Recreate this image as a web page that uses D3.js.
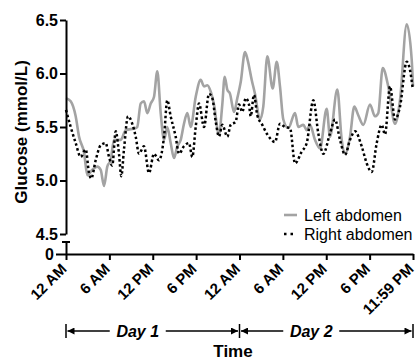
<!DOCTYPE html>
<html>
<head>
<meta charset="utf-8">
<script src="https://cdn.jsdelivr.net/npm/d3@7"></script>
<style>
  body { margin: 0; background: #fff; }
  svg { font-family: Arial, "Liberation Sans", sans-serif; }
  .axis path, .axis line { stroke: #000; stroke-width: 2; }
  .axis text { font-size: 16px; font-weight: bold; fill: #000; }
  .xaxis text { font-size: 15px; }
</style>
</head>
<body>
<svg id="chart" width="416" height="360"></svg>
<script>
// hours since midnight of day 1, glucose in mmol/L
const leftHours = [0, 0.65, 1.34, 1.8, 2.5, 2.95, 3.64, 4.33, 4.8, 5.26, 5.71, 6.18, 6.64, 7.57, 8.26, 9.64, 9.86, 10.33, 10.79, 11.25, 11.72, 12.17, 12.63, 13.1, 13.56, 14.01, 14.48, 14.94, 15.4, 15.87, 16.32, 16.78, 17.25, 17.94, 18.63, 19.09, 19.55, 20.02, 20.47, 21.16, 21.62, 21.95, 22.31, 22.69, 23.24, 23.7, 24.17, 24.76, 25.08, 25.69, 26.14, 26.84, 27.29, 27.85, 28.59, 29.15, 29.6, 30.06, 30.75, 31.68, 32.13, 32.83, 33.3, 33.75, 34.44, 35.14, 36.06, 36.52, 37.53, 38.14, 38.6, 39.29, 39.88, 40.43, 41.13, 42.05, 42.74, 43.2, 43.81, 44.58, 45.51, 46.2, 47.13, 47.82, 48]
const leftGlucose = [5.77, 5.74, 5.60, 5.41, 5.26, 5.05, 5.10, 5.13, 5.10, 4.95, 5.13, 5.19, 5.38, 5.38, 5.47, 5.49, 5.50, 5.72, 5.74, 5.63, 5.72, 5.78, 6.02, 5.63, 5.38, 5.50, 5.35, 5.21, 5.32, 5.38, 5.53, 5.63, 5.50, 5.78, 5.94, 5.88, 5.89, 5.83, 5.71, 5.43, 5.71, 5.97, 5.85, 5.81, 5.64, 5.77, 5.92, 6.20, 6.14, 5.94, 5.81, 5.57, 5.69, 6.16, 5.86, 6.11, 5.88, 5.57, 5.49, 5.63, 5.50, 5.52, 5.47, 5.52, 5.38, 5.30, 5.67, 5.41, 5.85, 5.38, 5.25, 5.41, 5.69, 5.61, 5.52, 5.71, 5.60, 5.63, 6.05, 5.88, 5.53, 5.75, 6.46, 6.13, 5.88]

const rightHours = [0, 0.65, 1.34, 2.03, 2.73, 3.18, 3.5, 4.11, 4.8, 5.49, 5.95, 6.4, 6.88, 7.33, 7.65, 8.02, 8.58, 9.17, 9.64, 10.1, 10.79, 11.48, 12.17, 12.86, 13.56, 14.01, 14.48, 15.17, 15.63, 16.32, 17.01, 17.47, 17.94, 18.4, 19.09, 19.78, 20.24, 20.71, 21.16, 21.62, 22.31, 22.78, 23.47, 23.93, 24.39, 24.86, 25.31, 25.55, 26.0, 26.46, 27.15, 27.85, 28.91, 29.6, 30.29, 30.99, 31.68, 32.6, 33.3, 34.21, 34.9, 35.59, 36.52, 37.21, 37.9, 38.6, 39.29, 39.98, 40.9, 41.6, 42.29, 42.98, 43.67, 44.13, 44.82, 45.51, 46.2, 47.13, 47.59, 47.96]
const rightGlucose = [5.66, 5.50, 5.35, 5.22, 5.29, 5.07, 5.02, 5.19, 5.33, 5.35, 5.22, 5.14, 5.46, 5.25, 5.04, 5.29, 5.60, 5.53, 5.41, 5.25, 5.32, 5.07, 5.25, 5.19, 5.41, 5.75, 5.60, 5.41, 5.25, 5.32, 5.35, 5.22, 5.50, 5.72, 5.50, 5.81, 5.77, 5.55, 5.41, 5.52, 5.41, 5.52, 5.55, 5.71, 5.64, 5.77, 5.71, 5.60, 5.80, 5.61, 5.52, 5.43, 5.36, 5.53, 5.50, 5.49, 5.16, 5.27, 5.35, 5.75, 5.44, 5.25, 5.44, 5.57, 5.38, 5.24, 5.38, 5.46, 5.32, 5.16, 5.08, 5.35, 5.52, 5.43, 5.88, 5.57, 5.69, 6.11, 6.03, 5.86]

const yTicks = [4.5, 5.0, 5.5, 6.0, 6.5]
const xTickHours = [0, 6, 12, 18, 24, 30, 36, 42, 48]
const xTickLabels = ['12 AM', '6 AM', '12 PM', '6 PM', '12 AM', '6 AM', '12 PM', '6 PM', '11:59 PM']
const dayLabels = ['Day 1', 'Day 2']
const seriesNames = ['Left abdomen', 'Right abdomen']

const svg = d3.select('#chart')

const x = d3.scaleLinear().domain([0, 48]).range([66, 413])
const y = d3.scaleLinear().domain([4.5, 6.5]).range([234, 20])
// the broken-off bottom part of the y axis, only holding 0
const yLow = d3.scaleLinear().domain([0, 1]).range([254, 242])

// arrow heads for the day brackets
const defs = svg.append('defs')
defs.append('marker')
  .attr('id', 'arrow')
  .attr('viewBox', '0 0 10 10')
  .attr('refX', 10).attr('refY', 5)
  .attr('markerWidth', 9).attr('markerHeight', 7)
  .attr('markerUnits', 'userSpaceOnUse')
  .attr('orient', 'auto-start-reverse')
  .append('path').attr('d', 'M0,0L10,5L0,10Z').attr('fill', '#000')

// lines
const line = d3.line()
  .x(d => x(d[0]))
  .y(d => y(d[1]))
  .curve(d3.curveMonotoneX)

const leftData = leftHours.map((h, i) => [h, leftGlucose[i]])
const rightData = rightHours.map((h, i) => [h, rightGlucose[i]])

svg.append('path')
  .datum(leftData)
  .attr('d', line)
  .attr('fill', 'none')
  .attr('stroke', '#a3a3a3')
  .attr('stroke-width', 2.6)

svg.append('path')
  .datum(rightData)
  .attr('d', line)
  .attr('fill', 'none')
  .attr('stroke', '#000')
  .attr('stroke-width', 2.5)
  .attr('stroke-dasharray', '2.5,2.5')

// y axis, upper part
svg.append('g')
  .attr('class', 'axis')
  .attr('transform', 'translate(66,0)')
  .call(d3.axisLeft(y).tickValues(yTicks).tickFormat(d3.format('.1f')).tickSize(6).tickSizeOuter(0).tickPadding(2))

// y axis, lower part with 0
const gLow = svg.append('g')
  .attr('class', 'axis')
  .attr('transform', 'translate(66,0)')
  .call(d3.axisLeft(yLow).tickValues([0]).tickFormat(d3.format('d')).tickSize(10).tickSizeOuter(0).tickPadding(2))
gLow.append('line')
  .attr('x1', -4).attr('x2', 4)
  .attr('y1', yLow(1)).attr('y2', yLow(1))
  .attr('stroke', '#000').attr('stroke-width', 2)

// x axis
const gx = svg.append('g')
  .attr('class', 'axis xaxis')
  .attr('transform', 'translate(0,254)')
  .call(d3.axisBottom(x).tickValues(xTickHours).tickFormat((d, i) => xTickLabels[i]).tickSize(6).tickSizeOuter(0))
gx.selectAll('.tick text')
  .attr('text-anchor', 'end')
  .attr('dy', 0)
  .attr('y', 0)
  .attr('transform', 'translate(1,16) rotate(-45)')

// day brackets
const bracketY = 331
const dayEdges = [0, 24, 48]
dayEdges.forEach(h => {
  svg.append('line')
    .attr('x1', x(h)).attr('x2', x(h))
    .attr('y1', bracketY - 7).attr('y2', bracketY + 7)
    .attr('stroke', '#000').attr('stroke-width', 1.5)
})
dayLabels.forEach((lab, i) => {
  const x0 = x(dayEdges[i]) + 1.5
  const x1 = x(dayEdges[i + 1]) - 1.5
  const cx = (x0 + x1) / 2 - 15
  svg.append('text')
    .attr('x', cx).attr('y', bracketY)
    .attr('dy', '0.35em')
    .attr('text-anchor', 'middle')
    .attr('font-size', 16)
    .attr('font-weight', 'bold')
    .attr('font-style', 'italic')
    .text(lab)
  svg.append('line')
    .attr('x1', cx - 28).attr('x2', x0)
    .attr('y1', bracketY).attr('y2', bracketY)
    .attr('stroke', '#000').attr('stroke-width', 1.5)
    .attr('marker-end', 'url(#arrow)')
  svg.append('line')
    .attr('x1', cx + 28).attr('x2', x1)
    .attr('y1', bracketY).attr('y2', bracketY)
    .attr('stroke', '#000').attr('stroke-width', 1.5)
    .attr('marker-end', 'url(#arrow)')
})

// axis titles
svg.append('text')
  .attr('x', 233).attr('y', 357)
  .attr('text-anchor', 'middle')
  .attr('font-size', 17)
  .attr('font-weight', 'bold')
  .text('Time')

svg.append('text')
  .attr('transform', 'translate(27,132) rotate(-90)')
  .attr('text-anchor', 'middle')
  .attr('font-size', 17)
  .attr('font-weight', 'bold')
  .text('Glucose (mmol/L)')

// legend
const legend = svg.append('g').attr('transform', 'translate(284,215)')
seriesNames.forEach((name, i) => {
  const row = legend.append('g').attr('transform', `translate(0,${i * 19})`)
  row.append('line')
    .attr('x1', 0).attr('x2', 13)
    .attr('stroke', i === 0 ? '#a3a3a3' : '#000')
    .attr('stroke-width', i === 0 ? 2.6 : 2.5)
    .attr('stroke-dasharray', i === 0 ? null : '2.5,4')
  row.append('text')
    .attr('x', 20).attr('dy', '0.35em')
    .attr('font-size', 16)
    .text(name)
})
</script>
</body>
</html>
